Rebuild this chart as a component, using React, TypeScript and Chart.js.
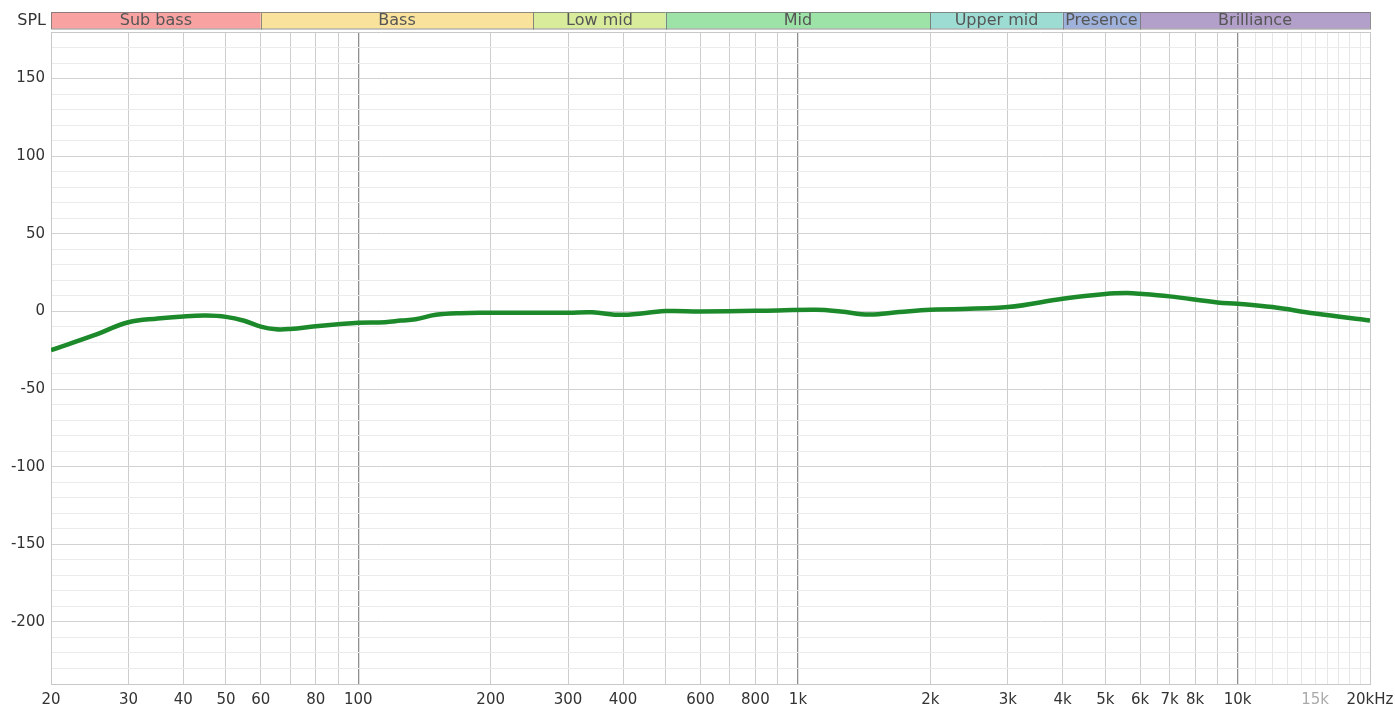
import React, { useEffect, useRef } from 'react';
import { Chart, registerables } from 'chart.js';

Chart.register(...registerables);

// Frequency response (Hz -> dB SPL)
const freqs = [20, 25, 30, 35, 40, 45, 50, 55, 60, 65, 70, 80, 90, 100, 115, 125, 135, 150, 170, 200, 250, 300, 340, 400, 500, 600, 800, 900, 1100, 1250, 1450, 1700, 2000, 3000, 4000, 5000, 5600, 6000, 7000, 9000, 10000, 12000, 15000, 20000];
const spl = [-25, -15.5, -7, -4.5, -3.2, -2.7, -3.5, -6, -9.8, -11.5, -11.3, -9.6, -8.3, -7.3, -6.9, -5.9, -5, -2.2, -1.1, -0.9, -0.8, -0.9, -0.6, -2.2, 0.2, 0, 0.4, 0.6, 1.1, 0, -2, -0.4, 1.1, 2.8, 8.2, 11.3, 11.8, 11.4, 9.7, 5.8, 5, 2.8, -1.4, -5.8];

// X grid lines and their labels
const xGridValues = [20, 30, 40, 50, 60, 70, 80, 90, 100, 200, 300, 400, 500, 600, 700, 800, 900, 1000, 2000, 3000, 4000, 5000, 6000, 7000, 8000, 9000, 10000, 11000, 12000, 13000, 14000, 15000, 16000, 17000, 18000, 19000, 20000];
const xTickValues = [20, 30, 40, 50, 60, 80, 100, 200, 300, 400, 600, 800, 1000, 2000, 3000, 4000, 5000, 6000, 7000, 8000, 10000, 15000, 20000];
const xTickLabels = ['20', '30', '40', '50', '60', '80', '100', '200', '300', '400', '600', '800', '1k', '2k', '3k', '4k', '5k', '6k', '7k', '8k', '10k', '15k', '20kHz'];

// Frequency bands
const bandNames = ['Sub bass', 'Bass', 'Low mid', 'Mid', 'Upper mid', 'Presence', 'Brilliance'];
const bandEdges = [20, 60, 250, 500, 2000, 4000, 6000, 20000];
const bandColors = ['#f9a2a2', '#f8e29c', '#d8ec9b', '#9de3a7', '#9cdcd3', '#9fb2dc', '#b2a0ca'];

const FONT = '"DejaVu Sans", "Liberation Sans", sans-serif';

const bandPlugin = {
  id: 'bands',
  afterDraw(chart: any) {
    const ctx = chart.ctx;
    const xs = chart.scales.x;
    const top = 12;
    const h = 16.5;
    ctx.save();
    for (let i = 0; i < bandNames.length; i++) {
      const x0 = xs.getPixelForValue(bandEdges[i]);
      const x1 = xs.getPixelForValue(bandEdges[i + 1]);
      ctx.fillStyle = bandColors[i];
      ctx.fillRect(x0, top, x1 - x0, h);
      ctx.strokeStyle = 'rgba(115,115,115,0.8)';
      ctx.lineWidth = 1;
      ctx.strokeRect(Math.round(x0) + 0.5, top + 0.5, Math.round(x1) - Math.round(x0), h);
      ctx.fillStyle = '#555';
      ctx.font = '16px ' + FONT;
      ctx.textAlign = 'center';
      ctx.textBaseline = 'middle';
      ctx.fillText(bandNames[i], (x0 + x1) / 2, top + h / 2 + 0.5);
    }
    ctx.fillStyle = '#333';
    ctx.font = '16px ' + FONT;
    ctx.textAlign = 'right';
    ctx.textBaseline = 'middle';
    ctx.fillText('SPL', 46, top + h / 2 + 0.5);
    ctx.restore();
  },
};

function xGridColor(v: number) {
  if (v === 20 || v === 20000) return '#c8c8c8';
  if (v === 100 || v === 1000 || v === 10000) return '#8f8f8f';
  if (v > 10000) return '#e6e6e6';
  return '#cdcdcd';
}

function yGridColor(v: number) {
  if (v === 180 || v === -240) return '#c8c8c8';
  if (v % 50 === 0) return '#d2d2d2';
  return '#ebebeb';
}

export default function App() {
  const ref = useRef<HTMLCanvasElement | null>(null);
  useEffect(() => {
    if (!ref.current) return;
    const chart = new Chart(ref.current, {
      type: 'line',
      data: {
        datasets: [
          {
            data: freqs.map((f, i) => ({ x: f, y: spl[i] })),
            borderColor: '#1c8a2b',
            borderWidth: 4.5,
            pointRadius: 0,
            tension: 0.4,
            fill: false,
          },
        ],
      },
      options: {
        responsive: false,
        animation: false,
        layout: { padding: { left: 0, top: 32, right: 25, bottom: 0 } },
        plugins: { legend: { display: false }, tooltip: { enabled: false } },
        scales: {
          x: {
            type: 'logarithmic',
            min: 20,
            max: 20000,
            afterBuildTicks(scale: any) {
              scale.ticks = xGridValues.map((v) => ({ value: v }));
            },
            afterFit(scale: any) {
              scale.height = 25;
              scale.paddingRight = 0;
              scale.paddingLeft = 0;
            },
            grid: {
              drawTicks: false,
              color: (c: any) => xGridColor(c.tick ? c.tick.value : 0),
              lineWidth: (c: any) => (c.tick && [100, 1000, 10000].includes(c.tick.value) ? 1.3 : 1),
            },
            border: { display: true, color: '#c8c8c8' },
            ticks: {
              autoSkip: false,
              maxRotation: 0,
              padding: 7,
              font: { size: 15, family: FONT },
              color: (c: any) => (c.tick && c.tick.value === 15000 ? '#aaaaaa' : '#333333'),
              callback: (v: any) => {
                const i = xTickValues.indexOf(Number(v));
                return i >= 0 ? xTickLabels[i] : '';
              },
            },
          },
          y: {
            type: 'linear',
            min: -240,
            max: 180,
            afterFit(scale: any) {
              scale.width = 51;
              scale.paddingTop = 0;
              scale.paddingBottom = 0;
            },
            grid: {
              drawTicks: false,
              color: (c: any) => yGridColor(c.tick ? c.tick.value : 0),
            },
            border: { display: true, color: '#c8c8c8' },
            ticks: {
              stepSize: 10,
              autoSkip: false,
              padding: 6,
              font: { size: 15, family: FONT },
              color: '#333333',
              callback: (v: any) => (Number(v) % 50 === 0 ? String(v) : ''),
            },
          },
        },
      },
      plugins: [bandPlugin],
    });
    return () => chart.destroy();
  }, []);
  return (
    <div style={{ position: 'fixed', left: 0, top: 0, width: 1395, height: 709, background: '#fff' }}>
      <canvas ref={ref} width={1395} height={709} style={{ display: 'block' }} />
    </div>
  );
}
